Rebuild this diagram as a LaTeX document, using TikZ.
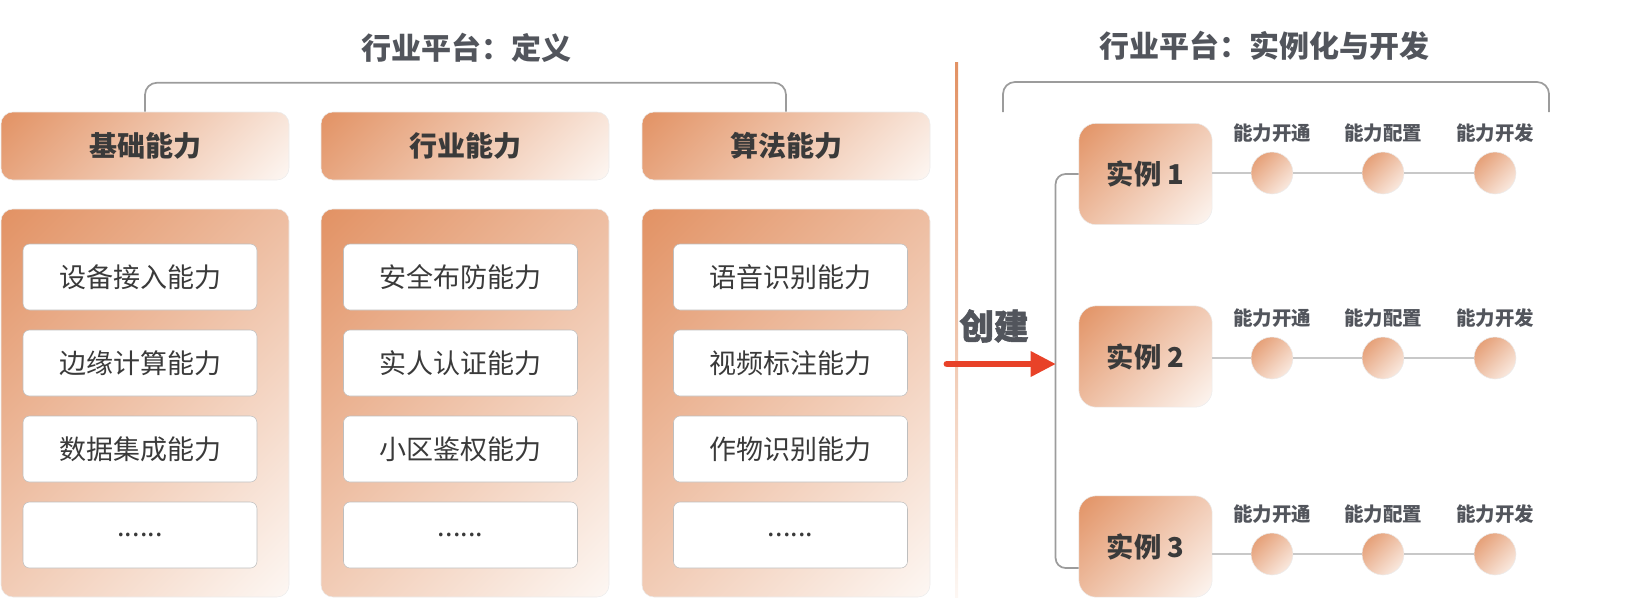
\documentclass[tikz,border=0pt]{standalone}
\usepackage{fontspec}
\setmainfont{Noto Sans CJK SC}
\newfontfamily\heavyfont[BoldFeatures={FakeBold=1.6}]{Noto Sans CJK SC}
\usepackage{tikz}
\usetikzlibrary{arrows.meta, positioning, calc}
\definecolor{orangedark}{RGB}{226,146,100}
\definecolor{orangelight}{RGB}{253,247,243}
\definecolor{linegray}{RGB}{156,156,156}
\definecolor{dotline}{RGB}{200,200,200}
\definecolor{titlegray}{RGB}{82,85,92}
\definecolor{textdark}{RGB}{58,58,58}
\definecolor{itemborder}{RGB}{190,190,190}
\definecolor{boxborder}{RGB}{236,236,236}
\definecolor{arrowred}{RGB}{232,66,40}
\pgfdeclareverticalshading{diagfade}{100bp}{color(0bp)=(orangelight); color(37.5bp)=(orangelight); color(62.5bp)=(orangedark); color(100bp)=(orangedark)}
\tikzset{
    gradfill/.style={path picture={\shade[shading=diagfade, shading angle=45] ([shift={(-#1,-#1)}]path picture bounding box.center) rectangle ([shift={(#1,#1)}]path picture bounding box.center);}},
    titlenode/.style={font=\fontsize{22.5pt}{26pt}\selectfont\bfseries, text=titlegray},
    headnode/.style={rectangle, gradfill=188.8pt, draw=boxborder, rounded corners=9pt, minimum width=216pt, minimum height=51pt, inner sep=0pt, font=\fontsize{21pt}{25pt}\selectfont\bfseries, text=textdark},
    panelnode/.style={rectangle, gradfill=358.5pt, draw=boxborder, rounded corners=9pt, minimum width=216pt, minimum height=291pt, inner sep=0pt},
    itemnode/.style={rectangle, draw=itemborder, fill=white, rounded corners=5pt, minimum width=175.5pt, minimum height=49.5pt, inner sep=0pt, font=\fontsize{20.25pt}{24pt}\selectfont, text=textdark},
    instnode/.style={rectangle, gradfill=124.5pt, draw=boxborder, rounded corners=13pt, minimum width=100pt, minimum height=76pt, inner sep=0pt, font=\fontsize{20.5pt}{24pt}\selectfont\bfseries, text=textdark},
    dotnode/.style={circle, gradfill=44.5pt, draw=boxborder, minimum size=31.5pt, inner sep=0pt},
    dotlabel/.style={font=\fontsize{14.6pt}{17pt}\selectfont\bfseries, text=titlegray},
    bracket/.style={draw=linegray, line width=1.3pt, rounded corners=9pt},
    treeline/.style={draw=linegray, line width=1.3pt, rounded corners=7.5pt},
    dotlink/.style={draw=dotline, line width=1.1pt},
    createarrow/.style={draw=arrowred, line width=5.2pt, line cap=round, -{Triangle[length=19pt, width=18pt]}}
}

\begin{document}
\begin{tikzpicture}[x=0.75pt, y=-0.75pt]
  \useasboundingbox (0,0) rectangle (1644,601);
  % left part: definition
  \node[titlenode] (deftitle) at (466,48) {行业平台：定义};
  \node[headnode] (hbase) at (145,146) {基础能力};
  \node[headnode] (hindus) at (465,146) {行业能力};
  \node[headnode] (halgo) at (786,146) {算法能力};
  \draw[bracket] (hbase.north) -- ++(0,-29) -| (halgo.north);
  \node[panelnode] (pbase) at (145,403) {};
  \node[panelnode] (pindus) at (465,403) {};
  \node[panelnode] (palgo) at (786,403) {};
  \node[itemnode] (b1) at (140,277) {设备接入能力};
  \node[itemnode] (b2) at (140,363) {边缘计算能力};
  \node[itemnode] (b3) at (140,449) {数据集成能力};
  \node[itemnode] (b4) at (140,535) {......};
  \node[itemnode] (i1) at (460.5,277) {安全布防能力};
  \node[itemnode] (i2) at (460.5,363) {实人认证能力};
  \node[itemnode] (i3) at (460.5,449) {小区鉴权能力};
  \node[itemnode] (i4) at (460.5,535) {......};
  \node[itemnode] (a1) at (790.5,277) {语音识别能力};
  \node[itemnode] (a2) at (790.5,363) {视频标注能力};
  \node[itemnode] (a3) at (790.5,449) {作物识别能力};
  \node[itemnode] (a4) at (790.5,535) {......};
  % divider
  \shade[top color=orangedark, bottom color=orangelight] (955,62) rectangle (958,597);
  % right part: instances
  \node[titlenode] (insttitle) at (1264,46) {行业平台：实例化与开发};
  \coordinate (rbl) at (1003,112);
  \coordinate (rbr) at (1549,112);
  \draw[bracket] (rbl) -- ++(0,-30) -| (rbr);
  \node[instnode] (inst1) at (1145.5,174) {实例 1};
  \node[instnode] (inst2) at (1145.5,356.5) {实例 2};
  \node[instnode] (inst3) at (1145.5,546.5) {实例 3};
  \node[dotnode] (d11) at (1272,173) {};
  \node[dotnode] (d12) at (1383,173) {};
  \node[dotnode] (d13) at (1495,173) {};
  \node[dotnode] (d21) at (1272,358) {};
  \node[dotnode] (d22) at (1383,358) {};
  \node[dotnode] (d23) at (1495,358) {};
  \node[dotnode] (d31) at (1272,554) {};
  \node[dotnode] (d32) at (1383,554) {};
  \node[dotnode] (d33) at (1495,554) {};
  \node[dotlabel] (l11) at (1272,133) {能力开通};
  \node[dotlabel] (l12) at (1383,133) {能力配置};
  \node[dotlabel] (l13) at (1495,133) {能力开发};
  \node[dotlabel] (l21) at (1272,318) {能力开通};
  \node[dotlabel] (l22) at (1383,318) {能力配置};
  \node[dotlabel] (l23) at (1495,318) {能力开发};
  \node[dotlabel] (l31) at (1272,514) {能力开通};
  \node[dotlabel] (l32) at (1383,514) {能力配置};
  \node[dotlabel] (l33) at (1495,514) {能力开发};
  \draw[dotlink] (inst1.east |- d11) -- (d11);
  \draw[dotlink] (d11) -- (d12);
  \draw[dotlink] (d12) -- (d13);
  \draw[dotlink] (inst2.east |- d21) -- (d21);
  \draw[dotlink] (d21) -- (d22);
  \draw[dotlink] (d22) -- (d23);
  \draw[dotlink] (inst3.east |- d31) -- (d31);
  \draw[dotlink] (d31) -- (d32);
  \draw[dotlink] (d32) -- (d33);
  \draw[treeline] (inst1.west) -- ++(-23,0) |- ($(inst3.west)+(0,21.5)$);
  % create arrow
  \node[font=\heavyfont\fontsize{26pt}{30pt}\selectfont\bfseries, text=titlegray] (create) at (994,326) {创建};
  \coordinate (arrowstart) at (947,364);
  \coordinate (arrowend) at (1056,364);
  \draw[createarrow] (arrowstart) -- (arrowend);
\end{tikzpicture}
\end{document}
